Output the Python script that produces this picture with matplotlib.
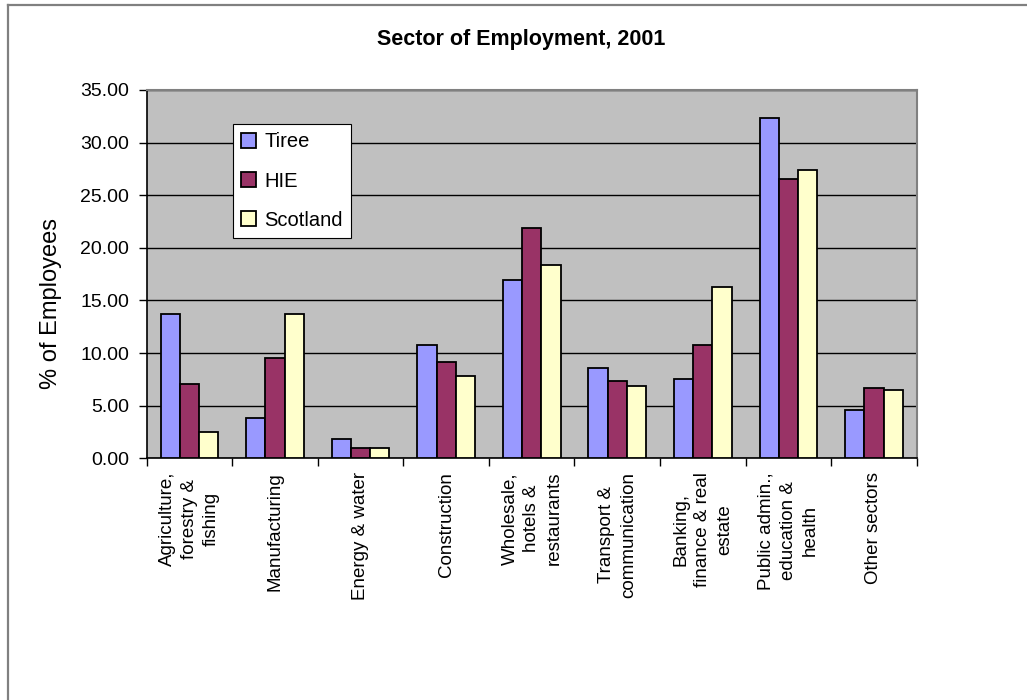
import matplotlib
matplotlib.use("Agg")
import matplotlib.pyplot as plt
import numpy as np
from matplotlib.lines import Line2D

categories = [
    "Agriculture,\nforestry &\nfishing",
    "Manufacturing",
    "Energy & water",
    "Construction",
    "Wholesale,\nhotels &\nrestaurants",
    "Transport &\ncommunication",
    "Banking,\nfinance & real\nestate",
    "Public admin.,\neducation &\nhealth",
    "Other sectors",
]
series_names = ["Tiree", "HIE", "Scotland"]
tiree = [13.75, 3.82, 1.87, 10.73, 16.96, 8.62, 7.57, 32.31, 4.55]
hie = [7.07, 9.51, 0.98, 9.13, 21.93, 7.38, 10.73, 26.55, 6.65]
scotland = [2.48, 13.75, 0.98, 7.79, 18.34, 6.88, 16.24, 27.37, 6.46]
colors = ["#9999FF", "#993366", "#FFFFCC"]
yticks = [0, 5, 10, 15, 20, 25, 30, 35]

plt.rcParams["font.family"] = ["Liberation Sans", "DejaVu Sans"]

fig = plt.figure(figsize=(10.27, 7.0), dpi=100)
ax = fig.add_axes([146.7 / 1027, 1 - 458.3 / 700, 770 / 1027, 368.3 / 700])
ax.set_facecolor("#C0C0C0")

n = len(categories)
x = np.arange(n)
bw = 0.2245
for i, (vals, name, c) in enumerate(zip([tiree, hie, scotland], series_names, colors)):
    ax.bar(x + (i - 1) * bw, vals, width=bw, color=c, edgecolor="black",
           linewidth=1.3, label=name, zorder=3)

ax.set_xlim(-0.5, n - 0.5)
ax.set_ylim(0, 35)
ax.set_yticks(yticks)
ax.set_yticklabels([f"{v:.2f}" for v in yticks], fontsize=14)
ax.yaxis.grid(True, color="black", linewidth=1.0, zorder=1)
ax.set_axisbelow(True)

ax.set_xticks(np.arange(-0.5, n, 1.0))
ax.set_xticklabels([])
ax.tick_params(axis="x", direction="out", length=6, width=1, color="black")
ax.tick_params(axis="y", direction="out", length=6, width=1, color="black", pad=6.5)
for i, lab in enumerate(categories):
    ax.text(i, -1.3, lab, rotation=90, ha="center", va="top",
            multialignment="center", fontsize=13.5, linespacing=1.4,
            transform=ax.transData, clip_on=False)

ax.spines["left"].set_color("black")
ax.spines["bottom"].set_color("black")
ax.spines["left"].set_linewidth(1.2)
ax.spines["bottom"].set_linewidth(1.2)
ax.spines["top"].set_color("#808080")
ax.spines["right"].set_color("#808080")
ax.spines["top"].set_linewidth(1.5)
ax.spines["right"].set_linewidth(1.5)

ax.set_ylabel("% of Employees", fontsize=17)
ax.yaxis.label.set_va("center")
ax.yaxis.set_label_coords((51 - 146.7) / 770, 0.42)

leg = ax.legend(loc="upper left", bbox_to_anchor=(0.1117, 0.9077),
                borderaxespad=0, fontsize=14.5, frameon=True, fancybox=False,
                edgecolor="black", facecolor="white", framealpha=1,
                handlelength=0.75, handleheight=0.75, handletextpad=0.4,
                labelspacing=1.0, borderpad=0.42)
leg.get_frame().set_linewidth(0.8)
leg.set_zorder(5)

fig.text(521.5 / 1027, 1 - 40 / 700, "Sector of Employment, 2001",
         ha="center", va="center", fontsize=15.5, fontweight="bold")

# outer frame (top and left edges visible)
fig.add_artist(Line2D([8 / 1027, 1], [1 - 5 / 700, 1 - 5 / 700],
                      transform=fig.transFigure, color="#808080", linewidth=1.6))
fig.add_artist(Line2D([8 / 1027, 8 / 1027], [0, 1 - 5 / 700],
                      transform=fig.transFigure, color="#808080", linewidth=1.6))

fig.savefig("out.png", dpi=100)
